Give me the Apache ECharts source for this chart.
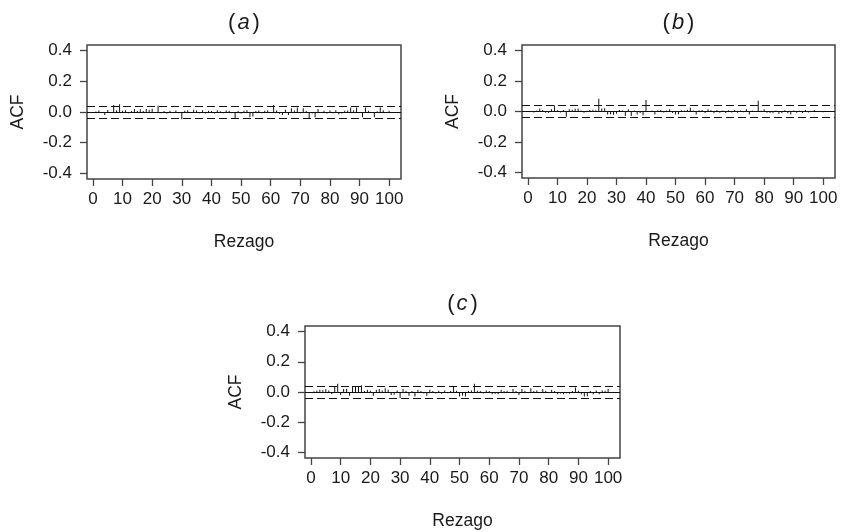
<!DOCTYPE html>
<html><head><meta charset="utf-8">
<script src="https://cdn.jsdelivr.net/npm/echarts@6/dist/echarts.min.js"></script>
<style>html,body{margin:0;padding:0;background:#fff}#c{width:841px;height:532px}</style>
</head><body><div id="c"></div>
<script>
// ACF values, lags 1..100
const acfA = [0.004,0.010,-0.006,-0.020,0.013,-0.004,0.045,0.012,0.050,0.008,
  0.012,-0.008,0.006,0.020,0.007,0.018,0.006,0.020,0.015,0.022,
  -0.005,0.040,-0.008,0.006,-0.010,0.008,-0.006,0.010,-0.008,-0.048,
  0.008,0.012,-0.006,0.015,0.010,-0.008,0.012,-0.010,0.008,0.006,
  -0.010,0.012,0.005,-0.008,0.010,0.008,-0.006,-0.045,0.006,-0.010,
  0.008,0.012,-0.035,-0.030,0.006,0.010,-0.008,0.008,0.012,-0.006,
  0.045,0.010,-0.012,-0.020,0.015,-0.020,0.025,0.010,0.030,-0.008,
  0.025,0.006,-0.040,-0.010,-0.035,0.020,-0.006,0.008,-0.010,0.010,
  -0.008,0.012,-0.015,-0.010,0.008,0.010,0.030,0.012,0.030,-0.006,
  -0.035,0.030,0.008,-0.006,-0.035,0.005,0.030,0.012,-0.005,0.008];
const acfB = [0.004,-0.006,0.006,0.020,0.010,-0.008,-0.010,0.015,0.040,0.008,
  -0.006,0.010,-0.035,0.015,0.012,0.018,0.020,0.006,-0.008,0.005,
  0.010,0.012,0.008,0.083,0.020,0.022,-0.020,-0.018,-0.022,-0.015,
  0.010,0.006,-0.030,0.015,-0.030,0.006,-0.020,-0.010,-0.025,0.075,
  0.004,0.006,-0.020,0.008,0.010,-0.006,0.006,0.015,-0.010,-0.020,
  -0.018,0.008,0.006,0.012,0.025,0.006,-0.020,0.008,0.010,-0.010,
  0.015,0.008,-0.012,0.010,-0.008,0.006,-0.010,0.008,-0.006,0.010,
  -0.008,0.006,-0.005,0.015,-0.020,0.006,-0.004,0.070,0.005,0.015,
  -0.008,-0.010,-0.012,0.006,-0.015,-0.010,0.008,-0.012,-0.020,0.006,
  -0.008,0.005,-0.010,0.010,-0.006,0.004,0.010,-0.004,0.003,-0.005];
const acfC = [0.005,0.010,0.015,0.012,0.018,0.010,-0.015,0.040,0.055,-0.020,
  0.020,0.022,-0.025,0.040,0.038,0.035,0.045,0.006,0.015,0.008,
  -0.025,0.015,0.020,0.010,0.025,0.015,-0.020,-0.018,0.010,-0.040,
  0.020,0.008,-0.025,0.006,-0.030,0.015,0.006,-0.010,-0.025,0.015,
  0.006,-0.010,0.008,-0.012,0.010,-0.008,0.006,0.040,0.008,-0.030,
  -0.025,-0.030,0.006,0.010,0.055,0.008,0.006,-0.010,0.010,0.006,
  -0.015,-0.012,-0.015,0.015,0.006,0.008,-0.006,0.020,0.006,-0.020,
  0.020,0.008,-0.006,0.025,0.006,0.010,-0.005,0.020,0.008,-0.006,
  0.015,0.006,-0.015,-0.010,-0.015,-0.008,-0.012,0.006,0.030,0.008,
  -0.015,-0.030,-0.028,0.006,-0.015,0.010,-0.015,0.010,0.008,0.020];
const panelLetters = ['a', 'b', 'c'];
const xTicks = [0, 10, 20, 30, 40, 50, 60, 70, 80, 90, 100];
const yTicks = [-0.4, -0.2, 0, 0.2, 0.4];
const ciBound = 0.042;
const xName = 'Rezago';
const yName = 'ACF';

const series = [acfA, acfB, acfC];
const boxes = [
  {left: 87, top: 45, width: 314, height: 134},
  {left: 522, top: 45, width: 313, height: 133},
  {left: 305, top: 326, width: 315, height: 132}
];
const FONT = '"Liberation Sans", Arial, sans-serif';
const INK = '#1a1a1a';
const BOX = '#444';

const chart = echarts.init(document.getElementById('c'), null, {renderer: 'canvas'});
const option = {
  animation: false,
  backgroundColor: '#fff',
  grid: boxes.map(b => ({left: b.left, top: b.top, width: b.width, height: b.height,
    show: true, borderColor: BOX, borderWidth: 1.5, backgroundColor: 'transparent', containLabel: false})),
  xAxis: boxes.map((b, i) => ({
    type: 'value', gridIndex: i, min: -2, max: 104, position: 'bottom',
    splitLine: {show: false}, axisLine: {show: false, onZero: false},
    axisTick: {show: true, inside: false, length: 7, customValues: xTicks, lineStyle: {color: BOX, width: 1.3}},
    axisLabel: {show: true, margin: 12, customValues: xTicks, color: INK, fontSize: 17, fontFamily: FONT},
    name: xName, nameLocation: 'middle', nameGap: 54,
    nameTextStyle: {color: INK, fontSize: 17.5, fontFamily: FONT}
  })),
  yAxis: boxes.map((b, i) => ({
    type: 'value', gridIndex: i, min: -0.437, max: 0.437, position: 'left',
    splitLine: {show: false}, axisLine: {show: false, onZero: false},
    axisTick: {show: true, inside: false, length: 7, customValues: yTicks, lineStyle: {color: BOX, width: 1.3}},
    axisLabel: {show: true, margin: 15, customValues: yTicks, color: INK, fontSize: 17, fontFamily: FONT,
      formatter: v => (Math.abs(v) < 1e-9 ? 0 : v).toFixed(1)},
    name: yName, nameLocation: 'middle', nameGap: 60, nameRotate: 90,
    nameTextStyle: {color: INK, fontSize: 17.5, fontFamily: FONT}
  })),
  graphic: boxes.map((b, i) => ({
    type: 'text', x: b.left + b.width / 2, y: b.top - 22,
    style: {
      text: '{p|(}{i|' + panelLetters[i] + '}{p|)}',
      align: 'center', verticalAlign: 'middle',
      rich: {
        p: {fontSize: 22, fontFamily: FONT, fill: INK, color: INK},
        i: {fontSize: 22, fontFamily: FONT, fontStyle: 'italic', fill: INK, color: INK, padding: [0, 3, 0, 2]}
      }
    }
  })),
  series: series.map((vals, i) => ({
    type: 'bar', xAxisIndex: i, yAxisIndex: i,
    data: vals.map((v, k) => [k + 1, v]),
    barWidth: 1,
    itemStyle: {color: '#111'},
    silent: true,
    markLine: {
      silent: true, symbol: 'none', label: {show: false},
      data: [
        {yAxis: 0, lineStyle: {type: 'solid', color: '#111', width: 1.2}},
        {yAxis: ciBound, lineStyle: {type: [8, 4], color: '#111', width: 1.2}},
        {yAxis: -ciBound, lineStyle: {type: [8, 4], color: '#111', width: 1.2}}
      ]
    }
  }))
};
chart.setOption(option);
</script></body></html>
